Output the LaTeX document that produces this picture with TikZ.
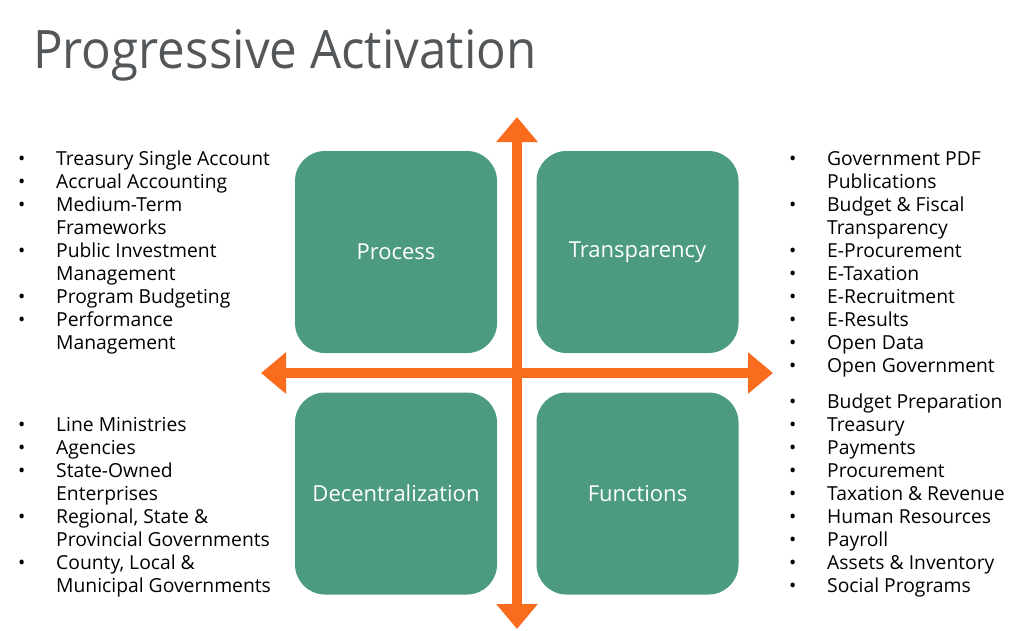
\documentclass[tikz,border=0pt]{standalone}
\usepackage{fontspec}
\usepackage{graphicx}
\setmainfont{Open Sans}
\usetikzlibrary{arrows.meta}
\definecolor{color_quad_fill}{HTML}{4B9A81}
\definecolor{color_axis}{HTML}{F96C1D}
\definecolor{color_title}{HTML}{53575A}
\def\quadsize{202pt}
\def\quadradius{30pt}
\newcommand{\bulletlist}[1]{{\fontsize{19.3}{23.1}\selectfont\begin{tabular}[t]{@{}p{38pt}@{}l@{}}#1\end{tabular}}}

\begin{document}
\begin{tikzpicture}[x=1pt, y=-1pt,
        quad/.style={rounded corners=\quadradius, fill=color_quad_fill, text=white, minimum width=\quadsize, minimum height=\quadsize, font=\fontsize{22}{26}\selectfont},
        axis/.style={color_axis, line width=10pt, {Triangle[length=25pt,width=40pt]}-{Triangle[length=25pt,width=40pt]}},
        itemlist/.style={anchor=base west, inner sep=0pt}]
    \useasboundingbox (0,0) rectangle (1024,630);
    % title
    \node[anchor=base west, inner sep=0pt, text=color_title, font=\fontsize{53}{58}\selectfont] (title) at (33,68) {\scalebox{0.93}[1]{Progressive Activation}};
    % the four quadrants
    \node[quad] (process) at (396,252) {Process};
    \node[quad] (transparency) at (637.5,252) {Transparency};
    \node[quad] (decentralization) at (396,493.5) {Decentralization};
    \node[quad] (functions) at (637.5,493.5) {Functions};
    % axes
    \coordinate (axis_top) at (517,117);
    \coordinate (axis_bottom) at (517,629);
    \coordinate (axis_left) at (261,373);
    \coordinate (axis_right) at (773,373);
    \draw[axis] (axis_top) -- (axis_bottom);
    \draw[axis] (axis_left) -- (axis_right);
    % lists
    \node[itemlist] (process_list) at (18,165) {\bulletlist{
        \textbullet & Treasury Single Account\\
        \textbullet & Accrual Accounting\\
        \textbullet & Medium-Term\\
                    & Frameworks\\
        \textbullet & Public Investment\\
                    & Management\\
        \textbullet & Program Budgeting\\
        \textbullet & Performance\\
                    & Management}};
    \node[itemlist] (decentralization_list) at (18,431) {\bulletlist{
        \textbullet & Line Ministries\\
        \textbullet & Agencies\\
        \textbullet & State-Owned\\
                    & Enterprises\\
        \textbullet & Regional, State \&\\
                    & Provincial Governments\\
        \textbullet & County, Local \&\\
                    & Municipal Governments}};
    \node[itemlist] (transparency_list) at (789,165) {\bulletlist{
        \textbullet & Government PDF\\
                    & Publications\\
        \textbullet & Budget \& Fiscal\\
                    & Transparency\\
        \textbullet & E-Procurement\\
        \textbullet & E-Taxation\\
        \textbullet & E-Recruitment\\
        \textbullet & E-Results\\
        \textbullet & Open Data\\
        \textbullet & Open Government}};
    \node[itemlist] (functions_list) at (789,408) {\bulletlist{
        \textbullet & Budget Preparation\\
        \textbullet & Treasury\\
        \textbullet & Payments\\
        \textbullet & Procurement\\
        \textbullet & Taxation \& Revenue\\
        \textbullet & Human Resources\\
        \textbullet & Payroll\\
        \textbullet & Assets \& Inventory\\
        \textbullet & Social Programs}};
\end{tikzpicture}
\end{document}
